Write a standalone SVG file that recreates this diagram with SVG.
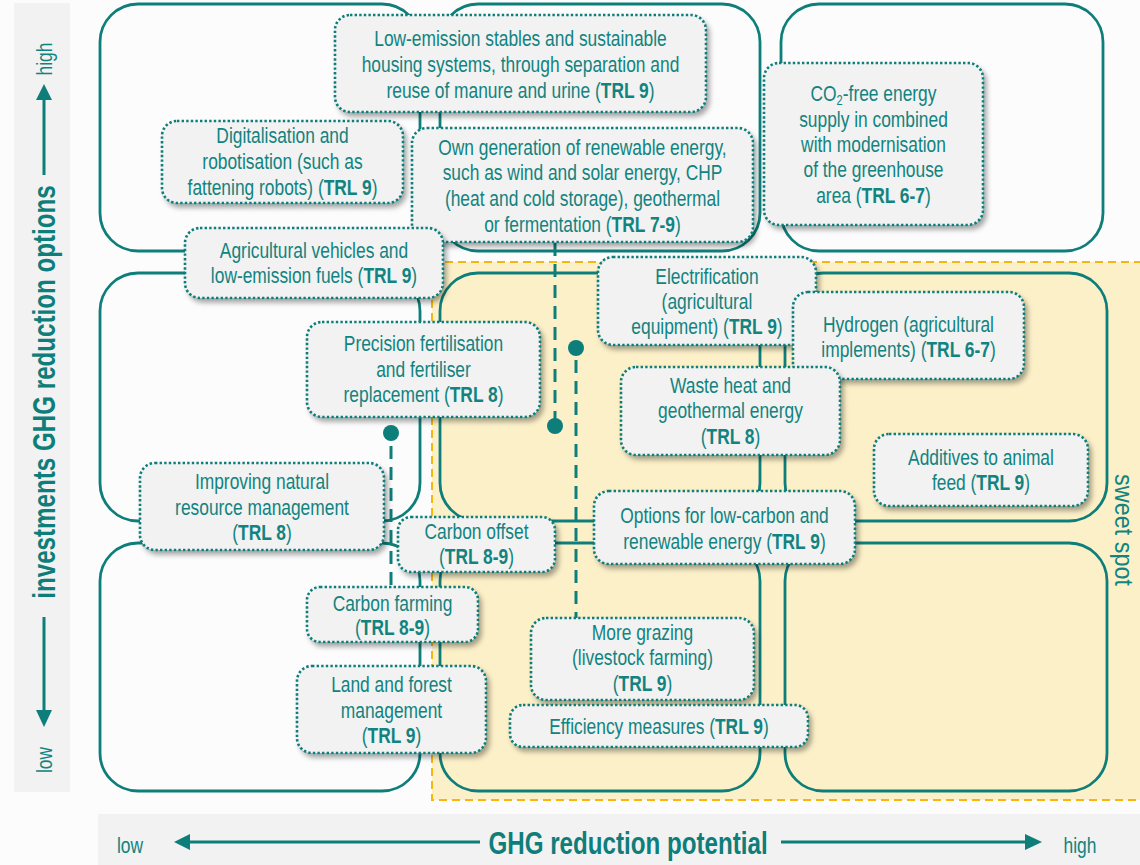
<svg xmlns="http://www.w3.org/2000/svg" width="1140" height="865" viewBox="0 0 1140 865">
<style>
  .grid { fill: none; stroke: #0e7e7a; stroke-width: 2.8; }
  .node rect { fill: #f2f2f2; stroke: #0e7e7a; stroke-width: 2.6; stroke-dasharray: 2.4 2.2; filter: url(#sh); }
  .node text, .lbl { font-family: 'Liberation Sans', Arial, sans-serif; font-size: 22px; fill: #118380; text-anchor: middle; }
  .b { font-weight: bold; }
  .dash { stroke: #0e7e7a; stroke-width: 3; stroke-dasharray: 13 8; fill: none; }
  .dot { fill: #0e7e7a; }
  .axis { stroke: #0e7e7a; stroke-width: 3; fill: none; }
  .head { fill: #0e7e7a; }
  .title { font-family: 'Liberation Sans', Arial, sans-serif; font-size: 31px; font-weight: bold; fill: #0e7e7a; text-anchor: middle; }
</style>
<defs>
  <filter id="sh" x="-10%" y="-10%" width="125%" height="140%">
    <feDropShadow dx="3" dy="4" stdDeviation="2.5" flood-color="#000" flood-opacity="0.35"/>
  </filter>
</defs>
<rect x="0" y="0" width="1140" height="865" fill="#fcfcfc"/>

<!-- sweet spot -->
<g id="sweet-spot">
  <rect x="432" y="262" width="720" height="538" fill="#fcf0c8" stroke="#f5b70f" stroke-width="2" stroke-dasharray="8 5"/>
  <text class="lbl" transform="translate(1115,530) rotate(90) scale(0.9,1)" style="font-size:26px">sweet spot</text>
</g>

<!-- axes -->
<g id="axis-y">
  <rect x="14" y="3" width="56" height="789" fill="#f2f2f2"/>
  <text class="lbl" transform="translate(52,59) rotate(-90) scale(0.79,1)">high</text>
  <line class="axis" x1="44" y1="175" x2="44" y2="98"/>
  <polygon class="head" points="44,84 36,100 52,100"/>
  <text class="title" transform="translate(55,392) rotate(-90) scale(0.78,1)">investments GHG reduction options</text>
  <line class="axis" x1="44" y1="617" x2="44" y2="712"/>
  <polygon class="head" points="36,710 52,710 44,727"/>
  <text class="lbl" transform="translate(52,760) rotate(-90) scale(0.79,1)">low</text>
</g>
<g id="axis-x">
  <rect x="98" y="814" width="1042" height="51" fill="#f2f2f2"/>
  <text class="lbl" transform="translate(130,853) scale(0.79,1)">low</text>
  <line class="axis" x1="480" y1="842" x2="188" y2="842"/>
  <polygon class="head" points="174,842 190,834 190,850"/>
  <text class="title" transform="translate(628,854) scale(0.78,1)">GHG reduction potential</text>
  <line class="axis" x1="781" y1="842" x2="1027" y2="842"/>
  <polygon class="head" points="1025,834 1042,842 1025,850"/>
  <text class="lbl" transform="translate(1080,853) scale(0.79,1)">high</text>
</g>

<!-- 3x3 grid -->
<g id="grid">
  <rect class="grid" x="100" y="4" width="320" height="247" rx="38"/>
  <rect class="grid" x="440" y="4" width="320" height="247" rx="38"/>
  <rect class="grid" x="781" y="4" width="322" height="247" rx="38"/>
  <rect class="grid" x="100" y="273" width="320" height="248" rx="38"/>
  <rect class="grid" x="440" y="273" width="320" height="248" rx="38"/>
  <rect class="grid" x="785" y="273" width="322" height="248" rx="38"/>
  <rect class="grid" x="100" y="543" width="320" height="248" rx="38"/>
  <rect class="grid" x="440" y="543" width="320" height="248" rx="38"/>
  <rect class="grid" x="785" y="543" width="322" height="248" rx="38"/>
</g>

<!-- connectors -->
<g id="connectors">
  <line class="dash" x1="555" y1="243" x2="555" y2="420"/>
  <circle class="dot" cx="555" cy="426" r="8"/>
  <circle class="dot" cx="576" cy="348" r="8"/>
  <line class="dash" x1="576" y1="360" x2="576" y2="618"/>
  <circle class="dot" cx="391" cy="433" r="8"/>
  <line class="dash" x1="391" y1="446" x2="391" y2="587"/>
</g>

<!-- nodes -->
<g id="n-low-emission-stables" class="node">
  <rect x="335" y="15" width="371" height="97" rx="15"/>
  <g transform="matrix(0.79 0 0 1 109.305 0)">
  <text x="520.5" y="46">Low-emission stables and sustainable</text>
  <text x="520.5" y="72">housing systems, through separation and</text>
  <text x="520.5" y="98">reuse of manure and urine (<tspan class="b">TRL 9</tspan>)</text>
  </g>
</g>
<g id="n-digitalisation" class="node">
  <rect x="162" y="121" width="241" height="82" rx="15"/>
  <g transform="matrix(0.79 0 0 1 59.325 0)">
  <text x="282.5" y="143">Digitalisation and</text>
  <text x="282.5" y="169">robotisation (such as</text>
  <text x="282.5" y="195">fattening robots) (<tspan class="b">TRL 9</tspan>)</text>
  </g>
</g>
<g id="n-own-generation" class="node">
  <rect x="412" y="128" width="341" height="114" rx="15"/>
  <g transform="matrix(0.79 0 0 1 122.325 0)">
  <text x="582.5" y="155">Own generation of renewable energy,</text>
  <text x="582.5" y="180">such as wind and solar energy, CHP</text>
  <text x="582.5" y="206">(heat and cold storage), geothermal</text>
  <text x="582.5" y="232">or fermentation (<tspan class="b">TRL 7-9</tspan>)</text>
  </g>
</g>
<g id="n-co2-free" class="node">
  <rect x="764" y="63" width="219" height="162" rx="15"/>
  <g transform="matrix(0.79 0 0 1 183.435 0)">
  <text x="873.5" y="101">CO<tspan dy="4" style="font-size:14px">2</tspan><tspan dy="-4">-free energy</tspan></text>
  <text x="873.5" y="127">supply in combined</text>
  <text x="873.5" y="152">with modernisation</text>
  <text x="873.5" y="177">of the greenhouse</text>
  <text x="873.5" y="203">area (<tspan class="b">TRL 6-7</tspan>)</text>
  </g>
</g>
<g id="n-agricultural-vehicles" class="node">
  <rect x="185" y="228" width="258" height="70" rx="15"/>
  <g transform="matrix(0.79 0 0 1 65.94 0)">
  <text x="314" y="258">Agricultural vehicles and</text>
  <text x="314" y="283">low-emission fuels (<tspan class="b">TRL 9</tspan>)</text>
  </g>
</g>
<g id="n-electrification" class="node">
  <rect x="598" y="257" width="218" height="88" rx="15"/>
  <g transform="matrix(0.79 0 0 1 148.47 0)">
  <text x="707" y="284">Electrification</text>
  <text x="707" y="309">(agricultural</text>
  <text x="707" y="334">equipment) (<tspan class="b">TRL 9</tspan>)</text>
  </g>
</g>
<g id="n-hydrogen" class="node">
  <rect x="793" y="292" width="231" height="87" rx="15"/>
  <g transform="matrix(0.79 0 0 1 190.785 0)">
  <text x="908.5" y="332">Hydrogen (agricultural</text>
  <text x="908.5" y="357">implements) (<tspan class="b">TRL 6-7</tspan>)</text>
  </g>
</g>
<g id="n-precision-fertilisation" class="node">
  <rect x="307" y="322" width="233" height="95" rx="15"/>
  <g transform="matrix(0.79 0 0 1 88.935 0)">
  <text x="423.5" y="351">Precision fertilisation</text>
  <text x="423.5" y="377">and fertiliser</text>
  <text x="423.5" y="402">replacement (<tspan class="b">TRL 8</tspan>)</text>
  </g>
</g>
<g id="n-waste-heat" class="node">
  <rect x="621" y="367" width="219" height="88" rx="15"/>
  <g transform="matrix(0.79 0 0 1 153.405 0)">
  <text x="730.5" y="393">Waste heat and</text>
  <text x="730.5" y="418">geothermal energy</text>
  <text x="730.5" y="444">(<tspan class="b">TRL 8</tspan>)</text>
  </g>
</g>
<g id="n-additives" class="node">
  <rect x="874" y="434" width="214" height="72" rx="15"/>
  <g transform="matrix(0.79 0 0 1 206.01 0)">
  <text x="981" y="465">Additives to animal</text>
  <text x="981" y="490">feed (<tspan class="b">TRL 9</tspan>)</text>
  </g>
</g>
<g id="n-improving-natural" class="node">
  <rect x="140" y="463" width="244" height="87" rx="15"/>
  <g transform="matrix(0.79 0 0 1 55.02 0)">
  <text x="262" y="489">Improving natural</text>
  <text x="262" y="515">resource management</text>
  <text x="262" y="540">(<tspan class="b">TRL 8</tspan>)</text>
  </g>
</g>
<g id="n-options-low-carbon" class="node">
  <rect x="594" y="491" width="261" height="73" rx="15"/>
  <g transform="matrix(0.79 0 0 1 152.145 0)">
  <text x="724.5" y="523">Options for low-carbon and</text>
  <text x="724.5" y="549">renewable energy (<tspan class="b">TRL 9</tspan>)</text>
  </g>
</g>
<g id="n-carbon-offset" class="node">
  <rect x="398" y="517" width="157" height="55" rx="13"/>
  <g transform="matrix(0.79 0 0 1 100.065 0)">
  <text x="476.5" y="539">Carbon offset</text>
  <text x="476.5" y="564">(<tspan class="b">TRL 8-9</tspan>)</text>
  </g>
</g>
<g id="n-carbon-farming" class="node">
  <rect x="307" y="587" width="171" height="55" rx="13"/>
  <g transform="matrix(0.79 0 0 1 82.425 0)">
  <text x="392.5" y="611">Carbon farming</text>
  <text x="392.5" y="635">(<tspan class="b">TRL 8-9</tspan>)</text>
  </g>
</g>
<g id="n-more-grazing" class="node">
  <rect x="531" y="618" width="223" height="82" rx="15"/>
  <g transform="matrix(0.79 0 0 1 134.925 0)">
  <text x="642.5" y="640">More grazing</text>
  <text x="642.5" y="665">(livestock farming)</text>
  <text x="642.5" y="691">(<tspan class="b">TRL 9</tspan>)</text>
  </g>
</g>
<g id="n-land-forest" class="node">
  <rect x="297" y="666" width="189" height="87" rx="15"/>
  <g transform="matrix(0.79 0 0 1 82.215 0)">
  <text x="391.5" y="692">Land and forest</text>
  <text x="391.5" y="718">management</text>
  <text x="391.5" y="743">(<tspan class="b">TRL 9</tspan>)</text>
  </g>
</g>
<g id="n-efficiency" class="node">
  <rect x="510" y="705" width="298" height="42" rx="13"/>
  <g transform="matrix(0.79 0 0 1 138.39 0)">
  <text x="659" y="734">Efficiency measures (<tspan class="b">TRL 9</tspan>)</text>
  </g>
</g>
</svg>
